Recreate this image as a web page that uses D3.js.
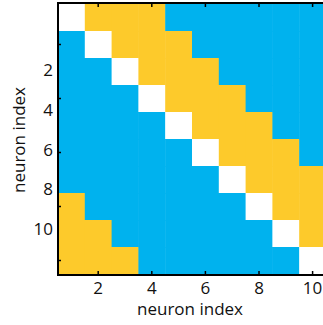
<!DOCTYPE html>
<html>
<head>
<meta charset="utf-8">
<script src="https://cdn.jsdelivr.net/npm/d3@7"></script>
<style>
  body { margin: 0; background: #fff; }
  svg { display: block; }
  text { font-family: "Open Sans", "DejaVu Sans", sans-serif; fill: #111; }
</style>
</head>
<body>
<div id="chart"></div>
<script>
// neuron indices and the connection matrix (0 = self, 1 = excitatory, 2 = inhibitory)
var neurons = [1, 2, 3, 4, 5, 6, 7, 8, 9, 10];
var matrix = [
  [0, 1, 1, 1, 2, 2, 2, 2, 2, 2],
  [2, 0, 1, 1, 1, 2, 2, 2, 2, 2],
  [2, 2, 0, 1, 1, 1, 2, 2, 2, 2],
  [2, 2, 2, 0, 1, 1, 1, 2, 2, 2],
  [2, 2, 2, 2, 0, 1, 1, 1, 2, 2],
  [2, 2, 2, 2, 2, 0, 1, 1, 1, 2],
  [2, 2, 2, 2, 2, 2, 0, 1, 1, 1],
  [1, 2, 2, 2, 2, 2, 2, 0, 1, 1],
  [1, 1, 2, 2, 2, 2, 2, 2, 0, 1],
  [1, 1, 1, 2, 2, 2, 2, 2, 2, 0]
];
var tickValues = [2, 4, 6, 8, 10];
var axisTitle = "neuron index";

var w = 323, h = 325;
var pLeft = 58, pTop = 4, pRight = 326, pBottom = 274;

var svg = d3.select("#chart").append("svg")
  .attr("width", w)
  .attr("height", h);

var x = d3.scaleLinear().domain([0.5, 10.5]).range([pLeft, pRight]);
var y = d3.scaleLinear().domain([0.5, 10.5]).range([pTop, pBottom]);
// y tick labels sit off their ticks in the original export
var yLab = d3.scaleLinear().domain([2, 10]).range([70, 229]);

var colour = d3.scaleOrdinal().domain([0, 1, 2]).range(["#ffffff", "#fdca2b", "#00b2ee"]);

var cells = [];
matrix.forEach(function(row, i) {
  row.forEach(function(v, j) {
    cells.push({ r: neurons[i], c: neurons[j], v: v });
  });
});

svg.append("g").selectAll("rect")
  .data(cells)
  .enter()
  .append("rect")
  .attr("x", function(d) { return x(d.c - 0.5); })
  .attr("y", function(d) { return y(d.r - 0.5); })
  .attr("width", x(1.5) - x(0.5) + 0.5)
  .attr("height", y(1.5) - y(0.5) + 0.5)
  .attr("fill", function(d) { return colour(d.v); });

// box lines
var box = svg.append("g").attr("stroke", "#000").attr("stroke-width", 2).attr("fill", "none");
box.append("line").attr("x1", pLeft).attr("x2", pLeft).attr("y1", pTop - 2).attr("y2", pBottom + 2);
box.append("line").attr("x1", pLeft - 1).attr("x2", w).attr("y1", pBottom + 1).attr("y2", pBottom + 1);
box.append("line").attr("x1", pLeft - 1).attr("x2", w).attr("y1", pTop - 1).attr("y2", pTop - 1);

// inward ticks
var ticks = svg.append("g").attr("stroke", "#000").attr("stroke-width", 1.5);
tickValues.forEach(function(t) {
  ticks.append("line").attr("x1", x(t)).attr("x2", x(t)).attr("y1", pBottom).attr("y2", pBottom - 3);
  ticks.append("line").attr("x1", x(t)).attr("x2", x(t)).attr("y1", pTop).attr("y2", pTop + 3);
  ticks.append("line").attr("x1", pLeft).attr("x2", pLeft + 3).attr("y1", y(t)).attr("y2", y(t));
});

// tick labels
svg.append("g").selectAll("text")
  .data(tickValues)
  .enter()
  .append("text")
  .attr("x", function(d) { return x(d); })
  .attr("y", 294)
  .attr("text-anchor", "middle")
  .attr("font-size", "17px")
  .text(function(d) { return d; });

svg.append("g").selectAll("text")
  .data(tickValues)
  .enter()
  .append("text")
  .attr("x", 53)
  .attr("y", function(d) { return yLab(d); })
  .attr("dy", "0.36em")
  .attr("text-anchor", "end")
  .attr("font-size", "17px")
  .text(function(d) { return d; });

// axis titles
svg.append("text")
  .attr("x", 190)
  .attr("y", 315)
  .attr("text-anchor", "middle")
  .attr("font-size", "17px")
  .text(axisTitle);

svg.append("text")
  .attr("transform", "translate(25,140) rotate(-90)")
  .attr("text-anchor", "middle")
  .attr("font-size", "17px")
  .text(axisTitle);
</script>
</body>
</html>
